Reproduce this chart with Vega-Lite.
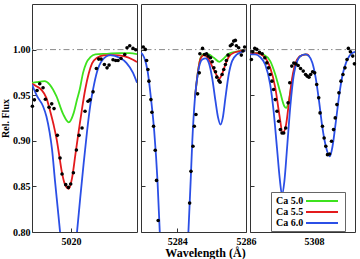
{
"$schema":"https://vega.github.io/schema/vega-lite/v6.json",
"padding":{"left":0,"top":3,"right":0,"bottom":0},
"bounds":"flush",
"background":"white",
"config":{
"view":{"stroke":"#333","strokeWidth":1},
"font":"Liberation Serif",
"axis":{"labelFont":"Liberation Serif","labelFontWeight":"bold","labelFontSize":10,"labelColor":"#000","titleFont":"Liberation Serif","titleFontWeight":"bold","titleColor":"#000","domain":false,"grid":false,"tickColor":"#333","tickSize":-4,"labelOverlap":false,"labelFlush":false,"labelBound":false},
"concat":{"spacing":4}
},
"datasets":{
"ref":[{"level":1.0}],
"obs":[
{"panel":1,"wl":5018.886,"flux":0.9379},{"panel":1,"wl":5018.944,"flux":0.9449},{"panel":1,"wl":5019.021,"flux":0.9551},{"panel":1,"wl":5019.098,"flux":0.9625},{"panel":1,"wl":5019.194,"flux":0.9581},{"panel":1,"wl":5019.261,"flux":0.9456},{"panel":1,"wl":5019.367,"flux":0.9368},{"panel":1,"wl":5019.444,"flux":0.9405},{"panel":1,"wl":5019.511,"flux":0.9353},{"panel":1,"wl":5019.607,"flux":0.906},{"panel":1,"wl":5019.684,"flux":0.8811},{"panel":1,"wl":5019.742,"flux":0.8636},{"panel":1,"wl":5019.848,"flux":0.8519},{"panel":1,"wl":5019.925,"flux":0.8489},{"panel":1,"wl":5019.992,"flux":0.8526},{"panel":1,"wl":5020.069,"flux":0.865},{"panel":1,"wl":5020.156,"flux":0.8899},{"panel":1,"wl":5020.233,"flux":0.906},{"panel":1,"wl":5020.319,"flux":0.9141},{"panel":1,"wl":5020.406,"flux":0.9324},{"panel":1,"wl":5020.492,"flux":0.9434},{"panel":1,"wl":5020.55,"flux":0.9449},{"panel":1,"wl":5020.637,"flux":0.9537},{"panel":1,"wl":5020.733,"flux":0.9793},{"panel":1,"wl":5020.8,"flux":0.9896},{"panel":1,"wl":5020.868,"flux":0.9896},{"panel":1,"wl":5020.964,"flux":0.9837},{"panel":1,"wl":5021.041,"flux":0.98},{"panel":1,"wl":5021.099,"flux":0.983},{"panel":1,"wl":5021.214,"flux":0.9888},{"panel":1,"wl":5021.291,"flux":0.9881},{"panel":1,"wl":5021.358,"flux":0.9881},{"panel":1,"wl":5021.445,"flux":0.9903},{"panel":1,"wl":5021.551,"flux":0.9947},{"panel":1,"wl":5021.618,"flux":1.002},{"panel":1,"wl":5021.695,"flux":1.0042},{"panel":1,"wl":5021.791,"flux":1.0013},{"panel":1,"wl":5021.868,"flux":0.9998},
{"panel":2,"wl":5283.016,"flux":1.0028},{"panel":2,"wl":5283.074,"flux":1.0002},{"panel":2,"wl":5283.113,"flux":0.9881},{"panel":2,"wl":5283.151,"flux":0.9782},{"panel":2,"wl":5283.18,"flux":0.9654},{"panel":2,"wl":5283.238,"flux":0.9452},{"panel":2,"wl":5283.267,"flux":0.9313},{"panel":2,"wl":5283.315,"flux":0.916},{"panel":2,"wl":5283.363,"flux":0.8896},{"panel":2,"wl":5283.401,"flux":0.8566},{"panel":2,"wl":5283.449,"flux":0.8126},{"panel":2,"wl":5284.363,"flux":0.8317},{"panel":2,"wl":5284.402,"flux":0.8665},{"panel":2,"wl":5284.459,"flux":0.894},{"panel":2,"wl":5284.498,"flux":0.916},{"panel":2,"wl":5284.546,"flux":0.9288},{"panel":2,"wl":5284.594,"flux":0.9515},{"panel":2,"wl":5284.642,"flux":0.9745},{"panel":2,"wl":5284.661,"flux":0.9954},{"panel":2,"wl":5284.738,"flux":1.0013},{"panel":2,"wl":5284.796,"flux":0.9947},{"panel":2,"wl":5284.854,"flux":0.9954},{"panel":2,"wl":5284.902,"flux":0.9929},{"panel":2,"wl":5284.969,"flux":0.991},{"panel":2,"wl":5285.017,"flux":0.9866},{"panel":2,"wl":5285.066,"flux":0.98},{"panel":2,"wl":5285.114,"flux":0.9757},{"panel":2,"wl":5285.152,"flux":0.9698},{"panel":2,"wl":5285.21,"flux":0.9661},{"panel":2,"wl":5285.248,"flux":0.9643},{"panel":2,"wl":5285.306,"flux":0.9727},{"panel":2,"wl":5285.354,"flux":0.9782},{"panel":2,"wl":5285.402,"flux":0.9837},{"panel":2,"wl":5285.431,"flux":0.9881},{"panel":2,"wl":5285.479,"flux":0.994},{"panel":2,"wl":5285.546,"flux":1.0042},{"panel":2,"wl":5285.595,"flux":1.0057},{"panel":2,"wl":5285.643,"flux":1.0093},{"panel":2,"wl":5285.691,"flux":1.0101},{"panel":2,"wl":5285.72,"flux":1.0042},{"panel":2,"wl":5285.787,"flux":1.002},{"panel":2,"wl":5285.864,"flux":0.994},{"panel":2,"wl":5285.912,"flux":0.9984},{"panel":2,"wl":5285.96,"flux":1.0028},
{"panel":3,"wl":5306.21,"flux":0.9892},{"panel":3,"wl":5306.248,"flux":0.9976},{"panel":3,"wl":5306.306,"flux":1.0013},{"panel":3,"wl":5306.364,"flux":1.0002},{"panel":3,"wl":5306.441,"flux":0.9969},{"panel":3,"wl":5306.518,"flux":0.9954},{"panel":3,"wl":5306.594,"flux":0.991},{"panel":3,"wl":5306.652,"flux":0.9855},{"panel":3,"wl":5306.7,"flux":0.98},{"panel":3,"wl":5306.748,"flux":0.9727},{"panel":3,"wl":5306.797,"flux":0.9654},{"panel":3,"wl":5306.845,"flux":0.9562},{"panel":3,"wl":5306.893,"flux":0.9452},{"panel":3,"wl":5306.941,"flux":0.9324},{"panel":3,"wl":5306.989,"flux":0.9214},{"panel":3,"wl":5307.037,"flux":0.9123},{"panel":3,"wl":5307.085,"flux":0.9086},{"panel":3,"wl":5307.133,"flux":0.9086},{"panel":3,"wl":5307.191,"flux":0.9141},{"panel":3,"wl":5307.258,"flux":0.9416},{"panel":3,"wl":5307.306,"flux":0.9636},{"panel":3,"wl":5307.364,"flux":0.9819},{"panel":3,"wl":5307.422,"flux":0.9852},{"panel":3,"wl":5307.48,"flux":0.9844},{"panel":3,"wl":5307.547,"flux":0.9826},{"panel":3,"wl":5307.614,"flux":0.9793},{"panel":3,"wl":5307.691,"flux":0.9764},{"panel":3,"wl":5307.758,"flux":0.9727},{"panel":3,"wl":5307.807,"flux":0.9709},{"panel":3,"wl":5307.855,"flux":0.9698},{"panel":3,"wl":5307.903,"flux":0.9727},{"panel":3,"wl":5307.96,"flux":0.9757},{"panel":3,"wl":5308.018,"flux":0.9745},{"panel":3,"wl":5308.076,"flux":0.9617},{"panel":3,"wl":5308.134,"flux":0.9471},{"panel":3,"wl":5308.172,"flux":0.9306},{"panel":3,"wl":5308.24,"flux":0.916},{"panel":3,"wl":5308.288,"flux":0.9031},{"panel":3,"wl":5308.336,"flux":0.894},{"panel":3,"wl":5308.384,"flux":0.8848},{"panel":3,"wl":5308.442,"flux":0.8855},{"panel":3,"wl":5308.499,"flux":0.8995},{"panel":3,"wl":5308.557,"flux":0.9123},{"panel":3,"wl":5308.605,"flux":0.9251},{"panel":3,"wl":5308.653,"flux":0.9397},{"panel":3,"wl":5308.711,"flux":0.9526},{"panel":3,"wl":5308.769,"flux":0.9654},{"panel":3,"wl":5308.826,"flux":0.9727},{"panel":3,"wl":5308.884,"flux":0.98},{"panel":3,"wl":5308.942,"flux":0.9892},{"panel":3,"wl":5308.98,"flux":1.0013},{"panel":3,"wl":5309.038,"flux":0.9976},{"panel":3,"wl":5309.105,"flux":0.9929},{"panel":3,"wl":5309.153,"flux":0.9844}
],
"mod":[
{"panel":1,"model":"Ca 5.0","wl":5018.876,"flux":0.9636},{"panel":1,"model":"Ca 5.0","wl":5019.001,"flux":0.9643},{"panel":1,"model":"Ca 5.0","wl":5019.242,"flux":0.9654},{"panel":1,"model":"Ca 5.0","wl":5019.386,"flux":0.9617},{"panel":1,"model":"Ca 5.0","wl":5019.579,"flux":0.9489},{"panel":1,"model":"Ca 5.0","wl":5019.771,"flux":0.9295},{"panel":1,"model":"Ca 5.0","wl":5019.935,"flux":0.9203},{"panel":1,"model":"Ca 5.0","wl":5020.079,"flux":0.9306},{"panel":1,"model":"Ca 5.0","wl":5020.175,"flux":0.9452},{"panel":1,"model":"Ca 5.0","wl":5020.252,"flux":0.9562},{"panel":1,"model":"Ca 5.0","wl":5020.348,"flux":0.9745},{"panel":1,"model":"Ca 5.0","wl":5020.444,"flux":0.9855},{"panel":1,"model":"Ca 5.0","wl":5020.56,"flux":0.9918},{"panel":1,"model":"Ca 5.0","wl":5020.704,"flux":0.9947},{"panel":1,"model":"Ca 5.0","wl":5021.041,"flux":0.9954},{"panel":1,"model":"Ca 5.0","wl":5021.406,"flux":0.9962},{"panel":1,"model":"Ca 5.0","wl":5021.695,"flux":0.9962},{"panel":1,"model":"Ca 5.0","wl":5021.906,"flux":0.9951},
{"panel":1,"model":"Ca 5.5","wl":5018.876,"flux":0.9625},{"panel":1,"model":"Ca 5.5","wl":5019.001,"flux":0.9599},{"panel":1,"model":"Ca 5.5","wl":5019.146,"flux":0.9559},{"panel":1,"model":"Ca 5.5","wl":5019.29,"flux":0.9471},{"panel":1,"model":"Ca 5.5","wl":5019.405,"flux":0.9317},{"panel":1,"model":"Ca 5.5","wl":5019.502,"flux":0.917},{"panel":1,"model":"Ca 5.5","wl":5019.588,"flux":0.9013},{"panel":1,"model":"Ca 5.5","wl":5019.665,"flux":0.883},{"panel":1,"model":"Ca 5.5","wl":5019.733,"flux":0.8665},{"panel":1,"model":"Ca 5.5","wl":5019.829,"flux":0.8519},{"panel":1,"model":"Ca 5.5","wl":5019.935,"flux":0.8474},{"panel":1,"model":"Ca 5.5","wl":5020.031,"flux":0.8592},{"panel":1,"model":"Ca 5.5","wl":5020.127,"flux":0.8848},{"panel":1,"model":"Ca 5.5","wl":5020.223,"flux":0.9105},{"panel":1,"model":"Ca 5.5","wl":5020.319,"flux":0.9354},{"panel":1,"model":"Ca 5.5","wl":5020.416,"flux":0.9573},{"panel":1,"model":"Ca 5.5","wl":5020.512,"flux":0.9738},{"panel":1,"model":"Ca 5.5","wl":5020.608,"flux":0.9848},{"panel":1,"model":"Ca 5.5","wl":5020.752,"flux":0.991},{"panel":1,"model":"Ca 5.5","wl":5020.945,"flux":0.9936},{"panel":1,"model":"Ca 5.5","wl":5021.233,"flux":0.994},{"panel":1,"model":"Ca 5.5","wl":5021.551,"flux":0.9925},{"panel":1,"model":"Ca 5.5","wl":5021.791,"flux":0.9888},{"panel":1,"model":"Ca 5.5","wl":5021.906,"flux":0.9863},
{"panel":1,"model":"Ca 6.0","wl":5018.876,"flux":0.9617},{"panel":1,"model":"Ca 6.0","wl":5019.021,"flux":0.9489},{"panel":1,"model":"Ca 6.0","wl":5019.194,"flux":0.9379},{"panel":1,"model":"Ca 6.0","wl":5019.29,"flux":0.9269},{"panel":1,"model":"Ca 6.0","wl":5019.386,"flux":0.9086},{"panel":1,"model":"Ca 6.0","wl":5019.454,"flux":0.8903},{"panel":1,"model":"Ca 6.0","wl":5019.54,"flux":0.8555},{"panel":1,"model":"Ca 6.0","wl":5019.617,"flux":0.8262},{"panel":1,"model":"Ca 6.0","wl":5019.684,"flux":0.8005},{"panel":1,"model":"Ca 6.0","wl":5019.771,"flux":0.765},{"panel":1,"model":"Ca 6.0","wl":5019.848,"flux":0.735},{"panel":1,"model":"Ca 6.0","wl":5019.925,"flux":0.722},{"panel":1,"model":"Ca 6.0","wl":5020.002,"flux":0.735},{"panel":1,"model":"Ca 6.0","wl":5020.079,"flux":0.765},{"panel":1,"model":"Ca 6.0","wl":5020.175,"flux":0.8005},{"panel":1,"model":"Ca 6.0","wl":5020.271,"flux":0.839},{"panel":1,"model":"Ca 6.0","wl":5020.367,"flux":0.8757},{"panel":1,"model":"Ca 6.0","wl":5020.464,"flux":0.9105},{"panel":1,"model":"Ca 6.0","wl":5020.56,"flux":0.9397},{"panel":1,"model":"Ca 6.0","wl":5020.656,"flux":0.9599},{"panel":1,"model":"Ca 6.0","wl":5020.752,"flux":0.9756},{"panel":1,"model":"Ca 6.0","wl":5020.897,"flux":0.9881},{"panel":1,"model":"Ca 6.0","wl":5021.137,"flux":0.994},{"panel":1,"model":"Ca 6.0","wl":5021.406,"flux":0.991},{"panel":1,"model":"Ca 6.0","wl":5021.599,"flux":0.9855},{"panel":1,"model":"Ca 6.0","wl":5021.791,"flux":0.9745},{"panel":1,"model":"Ca 6.0","wl":5021.906,"flux":0.9636},
{"panel":2,"model":"Ca 5.0","wl":5284.517,"flux":0.9471},{"panel":2,"model":"Ca 5.0","wl":5284.613,"flux":0.978},{"panel":2,"model":"Ca 5.0","wl":5284.681,"flux":0.991},{"panel":2,"model":"Ca 5.0","wl":5284.777,"flux":0.9954},{"panel":2,"model":"Ca 5.0","wl":5284.921,"flux":0.9947},{"panel":2,"model":"Ca 5.0","wl":5285.066,"flux":0.991},{"panel":2,"model":"Ca 5.0","wl":5285.229,"flux":0.9866},{"panel":2,"model":"Ca 5.0","wl":5285.354,"flux":0.9903},{"panel":2,"model":"Ca 5.0","wl":5285.498,"flux":0.9954},{"panel":2,"model":"Ca 5.0","wl":5285.691,"flux":0.9976},{"panel":2,"model":"Ca 5.0","wl":5285.979,"flux":0.9991},
{"panel":2,"model":"Ca 5.5","wl":5284.517,"flux":0.9471},{"panel":2,"model":"Ca 5.5","wl":5284.613,"flux":0.978},{"panel":2,"model":"Ca 5.5","wl":5284.681,"flux":0.9903},{"panel":2,"model":"Ca 5.5","wl":5284.777,"flux":0.994},{"panel":2,"model":"Ca 5.5","wl":5284.873,"flux":0.9918},{"panel":2,"model":"Ca 5.5","wl":5284.969,"flux":0.9855},{"panel":2,"model":"Ca 5.5","wl":5285.094,"flux":0.9757},{"panel":2,"model":"Ca 5.5","wl":5285.229,"flux":0.9683},{"panel":2,"model":"Ca 5.5","wl":5285.306,"flux":0.9734},{"panel":2,"model":"Ca 5.5","wl":5285.402,"flux":0.9837},{"panel":2,"model":"Ca 5.5","wl":5285.498,"flux":0.9918},{"panel":2,"model":"Ca 5.5","wl":5285.643,"flux":0.9965},{"panel":2,"model":"Ca 5.5","wl":5285.979,"flux":0.9991},
{"panel":2,"model":"Ca 6.0","wl":5282.949,"flux":0.9965},{"panel":2,"model":"Ca 6.0","wl":5283.045,"flux":0.9911},{"panel":2,"model":"Ca 6.0","wl":5283.142,"flux":0.9764},{"panel":2,"model":"Ca 6.0","wl":5283.238,"flux":0.9471},{"panel":2,"model":"Ca 6.0","wl":5283.334,"flux":0.9105},{"panel":2,"model":"Ca 6.0","wl":5283.43,"flux":0.8555},{"panel":2,"model":"Ca 6.0","wl":5283.497,"flux":0.7984},{"panel":2,"model":"Ca 6.0","wl":5283.574,"flux":0.74},{"panel":2,"model":"Ca 6.0","wl":5283.719,"flux":0.62},{"panel":2,"model":"Ca 6.0","wl":5283.911,"flux":0.56},{"panel":2,"model":"Ca 6.0","wl":5284.103,"flux":0.62},{"panel":2,"model":"Ca 6.0","wl":5284.248,"flux":0.74},{"panel":2,"model":"Ca 6.0","wl":5284.325,"flux":0.7984},{"panel":2,"model":"Ca 6.0","wl":5284.392,"flux":0.8555},{"panel":2,"model":"Ca 6.0","wl":5284.44,"flux":0.8995},{"panel":2,"model":"Ca 6.0","wl":5284.517,"flux":0.9471},{"panel":2,"model":"Ca 6.0","wl":5284.613,"flux":0.9764},{"panel":2,"model":"Ca 6.0","wl":5284.729,"flux":0.9892},{"panel":2,"model":"Ca 6.0","wl":5284.825,"flux":0.9903},{"panel":2,"model":"Ca 6.0","wl":5284.921,"flux":0.9855},{"panel":2,"model":"Ca 6.0","wl":5285.017,"flux":0.969},{"panel":2,"model":"Ca 6.0","wl":5285.114,"flux":0.9434},{"panel":2,"model":"Ca 6.0","wl":5285.191,"flux":0.9251},{"panel":2,"model":"Ca 6.0","wl":5285.258,"flux":0.9178},{"panel":2,"model":"Ca 6.0","wl":5285.325,"flux":0.9251},{"panel":2,"model":"Ca 6.0","wl":5285.402,"flux":0.9471},{"panel":2,"model":"Ca 6.0","wl":5285.498,"flux":0.9727},{"panel":2,"model":"Ca 6.0","wl":5285.595,"flux":0.9874},{"panel":2,"model":"Ca 6.0","wl":5285.739,"flux":0.9947},{"panel":2,"model":"Ca 6.0","wl":5285.883,"flux":0.9976},{"panel":2,"model":"Ca 6.0","wl":5285.979,"flux":0.9991},
{"panel":3,"model":"Ca 5.0","wl":5306.171,"flux":0.9954},{"panel":3,"model":"Ca 5.0","wl":5306.364,"flux":0.9965},{"panel":3,"model":"Ca 5.0","wl":5306.556,"flux":0.9947},{"panel":3,"model":"Ca 5.0","wl":5306.748,"flux":0.9874},{"panel":3,"model":"Ca 5.0","wl":5306.893,"flux":0.9727},{"panel":3,"model":"Ca 5.0","wl":5307.037,"flux":0.9526},{"panel":3,"model":"Ca 5.0","wl":5307.152,"flux":0.9379},{"panel":3,"model":"Ca 5.0","wl":5307.201,"flux":0.9361},{"panel":3,"model":"Ca 5.0","wl":5307.277,"flux":0.9434},{"panel":3,"model":"Ca 5.0","wl":5307.374,"flux":0.9654},{"panel":3,"model":"Ca 5.0","wl":5307.47,"flux":0.9837},{"panel":3,"model":"Ca 5.0","wl":5307.614,"flux":0.9929},{"panel":3,"model":"Ca 5.0","wl":5307.758,"flux":0.9947},{"panel":3,"model":"Ca 5.0","wl":5307.855,"flux":0.9929},
{"panel":3,"model":"Ca 5.5","wl":5306.171,"flux":0.9954},{"panel":3,"model":"Ca 5.5","wl":5306.364,"flux":0.9961},{"panel":3,"model":"Ca 5.5","wl":5306.556,"flux":0.9929},{"panel":3,"model":"Ca 5.5","wl":5306.748,"flux":0.98},{"panel":3,"model":"Ca 5.5","wl":5306.893,"flux":0.9581},{"panel":3,"model":"Ca 5.5","wl":5307.008,"flux":0.9288},{"panel":3,"model":"Ca 5.5","wl":5307.104,"flux":0.9086},{"panel":3,"model":"Ca 5.5","wl":5307.201,"flux":0.9178},{"panel":3,"model":"Ca 5.5","wl":5307.297,"flux":0.9471},{"panel":3,"model":"Ca 5.5","wl":5307.393,"flux":0.9727},{"panel":3,"model":"Ca 5.5","wl":5307.518,"flux":0.9892},{"panel":3,"model":"Ca 5.5","wl":5307.662,"flux":0.994},{"panel":3,"model":"Ca 5.5","wl":5307.807,"flux":0.9947},{"panel":3,"model":"Ca 5.5","wl":5307.855,"flux":0.9929},
{"panel":3,"model":"Ca 6.0","wl":5306.171,"flux":0.9947},{"panel":3,"model":"Ca 6.0","wl":5306.316,"flux":0.9947},{"panel":3,"model":"Ca 6.0","wl":5306.46,"flux":0.9918},{"panel":3,"model":"Ca 6.0","wl":5306.604,"flux":0.9837},{"panel":3,"model":"Ca 6.0","wl":5306.748,"flux":0.9617},{"panel":3,"model":"Ca 6.0","wl":5306.845,"flux":0.9324},{"panel":3,"model":"Ca 6.0","wl":5306.941,"flux":0.8921},{"panel":3,"model":"Ca 6.0","wl":5307.018,"flux":0.8592},{"panel":3,"model":"Ca 6.0","wl":5307.085,"flux":0.8408},{"panel":3,"model":"Ca 6.0","wl":5307.152,"flux":0.8555},{"panel":3,"model":"Ca 6.0","wl":5307.229,"flux":0.8921},{"panel":3,"model":"Ca 6.0","wl":5307.326,"flux":0.9397},{"panel":3,"model":"Ca 6.0","wl":5307.422,"flux":0.9727},{"panel":3,"model":"Ca 6.0","wl":5307.518,"flux":0.9874},{"panel":3,"model":"Ca 6.0","wl":5307.614,"flux":0.9929},{"panel":3,"model":"Ca 6.0","wl":5307.758,"flux":0.9947},{"panel":3,"model":"Ca 6.0","wl":5307.855,"flux":0.9929},{"panel":3,"model":"Ca 6.0","wl":5307.951,"flux":0.9855},{"panel":3,"model":"Ca 6.0","wl":5308.047,"flux":0.969},{"panel":3,"model":"Ca 6.0","wl":5308.143,"flux":0.9434},{"panel":3,"model":"Ca 6.0","wl":5308.24,"flux":0.9141},{"panel":3,"model":"Ca 6.0","wl":5308.336,"flux":0.894},{"panel":3,"model":"Ca 6.0","wl":5308.451,"flux":0.883},{"panel":3,"model":"Ca 6.0","wl":5308.528,"flux":0.894},{"panel":3,"model":"Ca 6.0","wl":5308.624,"flux":0.9214},{"panel":3,"model":"Ca 6.0","wl":5308.721,"flux":0.9507},{"panel":3,"model":"Ca 6.0","wl":5308.817,"flux":0.9727},{"panel":3,"model":"Ca 6.0","wl":5308.913,"flux":0.9855},{"panel":3,"model":"Ca 6.0","wl":5309.009,"flux":0.9929},{"panel":3,"model":"Ca 6.0","wl":5309.105,"flux":0.9965},{"panel":3,"model":"Ca 6.0","wl":5309.201,"flux":0.9976}
]
},
"hconcat":[
{"width":105,"height":228,
"layer":[
{"data":{"name":"ref"},"mark":{"type":"rule","color":"#8a8a8a","strokeDash":[6,3,1.5,3],"strokeWidth":1},"encoding":{"y":{"field":"level","type":"quantitative"}}},
{"data":{"name":"mod"},"transform":[{"filter":"datum.panel == 1"}],"mark":{"type":"line","interpolate":"monotone","strokeWidth":1.8,"clip":true},
"encoding":{
"x":{"field":"wl","type":"quantitative","scale":{"domain":[5018.875,5021.905],"nice":false,"zero":false},"axis":{"values":[5020],"format":"d","title":null,"labelPadding":8}},
"y":{"field":"flux","type":"quantitative","scale":{"domain":[0.8,1.05],"nice":false,"zero":false},"axis":{"values":[0.8,0.85,0.9,0.95,1.0],"format":".2f","title":"Rel. Flux","titleFontSize":10,"labelPadding":6,"titlePadding":2}},
"color":{"field":"model","type":"nominal","scale":{"domain":["Ca 5.0","Ca 5.5","Ca 6.0"],"range":["#3ee21e","#e31a1c","#2b4fe6"]},"legend":null}}},
{"data":{"name":"obs"},"transform":[{"filter":"datum.panel == 1"}],"mark":{"type":"circle","size":13,"color":"#000","opacity":1},
"encoding":{"x":{"field":"wl","type":"quantitative"},"y":{"field":"flux","type":"quantitative"}}}
]},
{"width":105,"height":228,
"layer":[
{"data":{"name":"ref"},"mark":{"type":"rule","color":"#8a8a8a","strokeDash":[6,3,1.5,3],"strokeWidth":1},"encoding":{"y":{"field":"level","type":"quantitative"}}},
{"data":{"name":"mod"},"transform":[{"filter":"datum.panel == 2"}],"mark":{"type":"line","interpolate":"monotone","strokeWidth":1.8,"clip":true},
"encoding":{
"x":{"field":"wl","type":"quantitative","scale":{"domain":[5282.95,5286.0],"nice":false,"zero":false},"axis":{"values":[5284,5286],"format":"d","title":"Wavelength (Å)","titleFontSize":12,"labelPadding":8,"titleX":64,"titleY":24,"titleBaseline":"alphabetic","titleAnchor":"middle","titleAlign":"center"}},
"y":{"field":"flux","type":"quantitative","scale":{"domain":[0.8,1.05],"nice":false,"zero":false},"axis":{"values":[0.8,0.85,0.9,0.95,1.0],"labels":false,"title":null}},
"color":{"field":"model","type":"nominal","scale":{"domain":["Ca 5.0","Ca 5.5","Ca 6.0"],"range":["#3ee21e","#e31a1c","#2b4fe6"]},"legend":null}}},
{"data":{"name":"obs"},"transform":[{"filter":"datum.panel == 2"}],"mark":{"type":"circle","size":13,"color":"#000","opacity":1},
"encoding":{"x":{"field":"wl","type":"quantitative"},"y":{"field":"flux","type":"quantitative"}}}
]},
{"width":105,"height":228,
"layer":[
{"data":{"name":"ref"},"mark":{"type":"rule","color":"#8a8a8a","strokeDash":[6,3,1.5,3],"strokeWidth":1},"encoding":{"y":{"field":"level","type":"quantitative"}}},
{"data":{"name":"mod"},"transform":[{"filter":"datum.panel == 3"}],"mark":{"type":"line","interpolate":"monotone","strokeWidth":1.8,"clip":true},
"encoding":{
"x":{"field":"wl","type":"quantitative","scale":{"domain":[5306.17,5309.17],"nice":false,"zero":false},"axis":{"values":[5308],"format":"d","title":null,"labelPadding":8}},
"y":{"field":"flux","type":"quantitative","scale":{"domain":[0.8,1.05],"nice":false,"zero":false},"axis":{"values":[0.8,0.85,0.9,0.95,1.0],"labels":false,"title":null}},
"color":{"field":"model","type":"nominal","scale":{"domain":["Ca 5.0","Ca 5.5","Ca 6.0"],"range":["#3ee21e","#e31a1c","#2b4fe6"]},
"legend":{"orient":"none","legendX":21,"legendY":188,"title":null,"symbolType":"M-3.2,0H3.2","symbolSize":100,"symbolStrokeWidth":2,"symbolOffset":42,"labelOffset":-52,"labelFont":"Liberation Serif","labelFontWeight":"bold","labelFontSize":10,"labelColor":"#000","strokeColor":"#666","fillColor":"#fff","padding":3,"rowPadding":-3,"labelLimit":100}}}},
{"data":{"name":"obs"},"transform":[{"filter":"datum.panel == 3"}],"mark":{"type":"circle","size":13,"color":"#000","opacity":1},
"encoding":{"x":{"field":"wl","type":"quantitative"},"y":{"field":"flux","type":"quantitative"}}}
]}
],
"resolve":{"scale":{"x":"independent","color":"independent"},"legend":{"color":"independent"}}
}
